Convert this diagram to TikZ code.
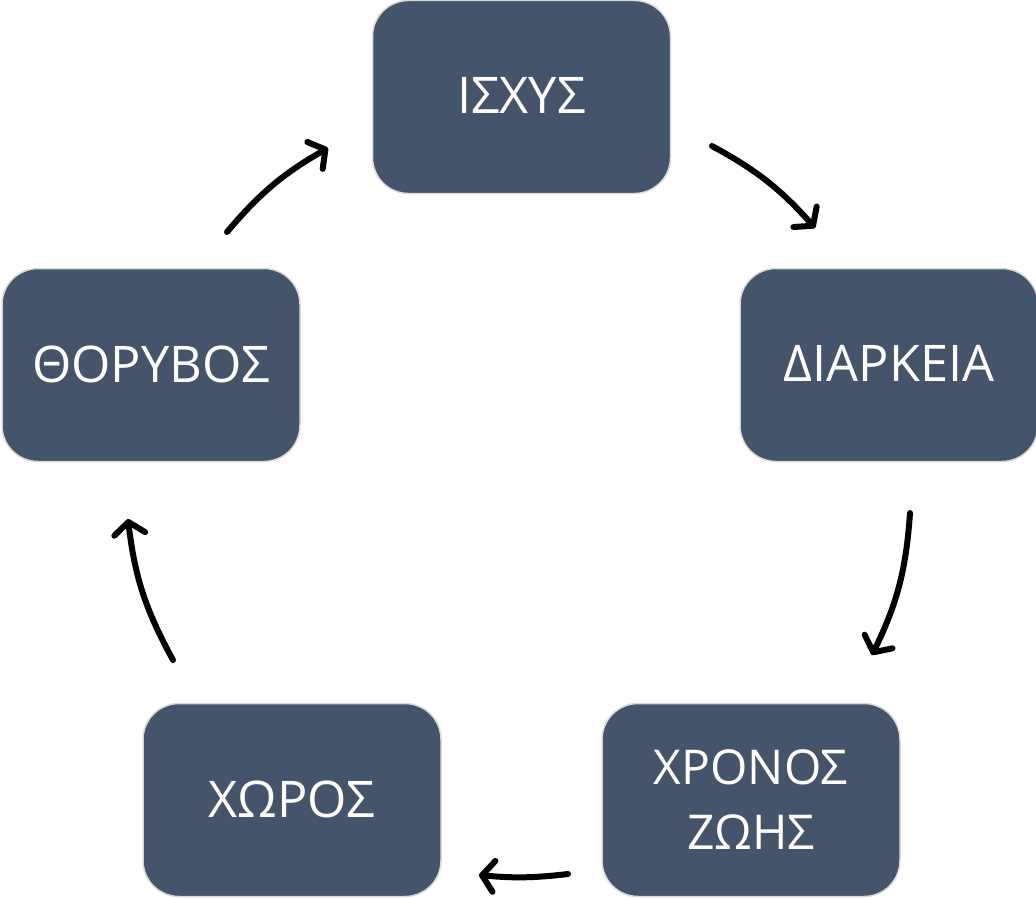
\documentclass[tikz,border=0pt]{standalone}
\usepackage{fontspec}
\setmainfont{Open Sans}
\usetikzlibrary{arrows.meta}
\definecolor{boxfill}{HTML}{44546A}
\definecolor{boxline}{HTML}{DADADA}
\tikzset{
  boxnode/.style={rectangle, rounded corners=36pt, minimum width=298pt, minimum height=193pt,
    inner sep=0pt, fill=boxfill, draw=boxline, line width=1.5pt, text=white, align=center,
    font=\fontsize{50.5}{62}\selectfont},
  twoline/.style={font=\fontsize{48}{65}\selectfont},
  cyclearrow/.style={line width=6pt, draw=black, line cap=round,
    -{Straight Barb[length=12pt,width=31pt,line cap=round,line join=round]}}
}
\begin{document}
\begin{tikzpicture}[x=1pt,y=1pt]
\useasboundingbox (0,0) rectangle (1036,-899);
\node[boxnode] (ischys) at (521.5,-97) {\raisebox{2.5pt}{ΙΣΧΥΣ}};
\node[boxnode] (diarkeia) at (889,-365) {\raisebox{2.5pt}{ΔΙΑΡΚΕΙΑ}};
\node[boxnode,twoline] (chronos) at (751,-800) {ΧΡΟΝΟΣ\\ΖΩΗΣ};
\node[boxnode] (choros) at (292,-800) {\raisebox{2.5pt}{ΧΩΡΟΣ}};
\node[boxnode] (thoryvos) at (151,-365) {\raisebox{2.5pt}{ΘΟΡΥΒΟΣ}};

\coordinate (a1s) at (712,-146);
\coordinate (a1e) at (815,-228);
\coordinate (a2s) at (910,-513);
\coordinate (a2e) at (872,-655);
\coordinate (a3s) at (568,-874);
\coordinate (a3e) at (479,-875);
\coordinate (a4s) at (173,-660);
\coordinate (a4e) at (128,-519);
\coordinate (a5s) at (227,-232);
\coordinate (a5e) at (328,-148);

\draw[cyclearrow] (a1s) to[bend left=10] (a1e);
\draw[cyclearrow] (a2s) to[bend left=11] (a2e);
\draw[cyclearrow] (a3s) to[bend left=6] (a3e);
\draw[cyclearrow] (a4s) to[bend left=11] (a4e);
\draw[cyclearrow] (a5s) to[bend left=10] (a5e);
\end{tikzpicture}
\end{document}
